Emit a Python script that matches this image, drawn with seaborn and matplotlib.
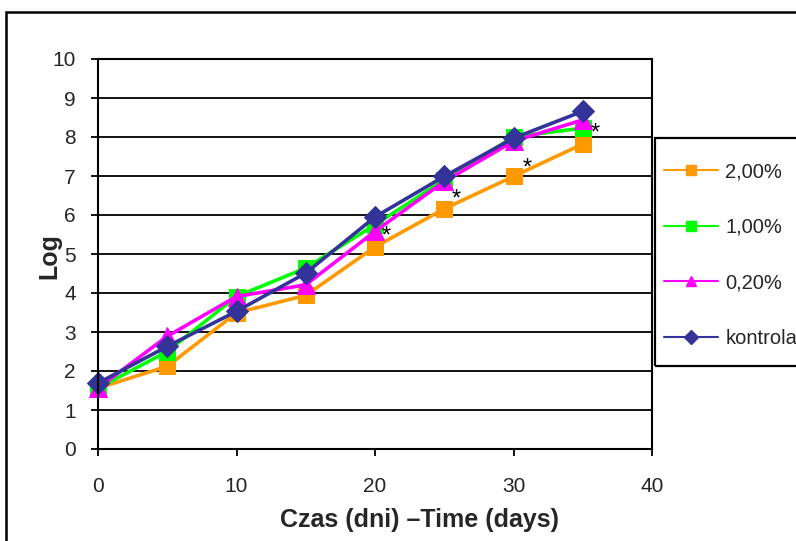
import matplotlib
matplotlib.use("Agg")
import matplotlib.pyplot as plt
import seaborn as sns
import pandas as pd
from matplotlib.lines import Line2D
from matplotlib.patches import Rectangle

days = [0, 5, 10, 15, 20, 25, 30, 35]
series_names = ["2,00%", "1,00%", "0,20%", "kontrola"]
v_200 = [1.56, 2.12, 3.49, 3.94, 5.18, 6.16, 6.99, 7.82]
v_100 = [1.56, 2.50, 3.91, 4.64, 5.75, 6.90, 8.00, 8.23]
v_020 = [1.56, 2.89, 3.91, 4.21, 5.58, 6.86, 7.89, 8.44]
v_kon = [1.69, 2.63, 3.53, 4.51, 5.95, 6.99, 7.97, 8.66]
star_x = [20.8, 25.9, 31.0, 35.9]
star_y = [5.45, 6.40, 7.20, 8.10]
x_ticks = [0, 10, 20, 30, 40]
y_ticks = list(range(0, 11))

colors = {"2,00%": "#FF9900", "1,00%": "#00FF00", "0,20%": "#FF00FF", "kontrola": "#333399"}
markers = {"2,00%": "s", "1,00%": "s", "0,20%": "^", "kontrola": "D"}
msizes = {"2,00%": 12, "1,00%": 12, "0,20%": 13, "kontrola": 11}

df = pd.DataFrame({
    "day": days * 4,
    "value": v_200 + v_100 + v_020 + v_kon,
    "series": sum([[n] * len(days) for n in series_names], []),
})

sns.set_style("white")
plt.rcParams["font.family"] = ["Liberation Sans", "DejaVu Sans"]

fig = plt.figure(figsize=(7.96, 5.41), dpi=100)
ax = fig.add_axes([98 / 796, 1 - 449 / 541, (652 - 98) / 796, (449 - 59) / 541])

for name in series_names:
    sub = df[df["series"] == name]
    sns.lineplot(data=sub, x="day", y="value", ax=ax, color=colors[name],
                 marker=markers[name], markersize=msizes[name],
                 markeredgecolor=colors[name], linewidth=2.6, legend=False,
                 clip_on=False)

for sx, sy in zip(star_x, star_y):
    ax.text(sx, sy, "*", fontsize=17, ha="center", va="center", color="black")

ax.set_xlim(0, 40)
ax.set_ylim(0, 10)
ax.set_xticks(x_ticks)
ax.set_yticks(y_ticks)
ax.yaxis.grid(True, color="black", linewidth=1.3)
ax.xaxis.grid(False)
ax.set_axisbelow(True)
for s in ax.spines.values():
    s.set_color("black")
    s.set_linewidth(1.5)
ax.tick_params(axis="both", direction="out", length=5, width=1.3, color="black",
               labelsize=15, bottom=True, left=True)
ax.tick_params(axis="x", pad=15)
ax.tick_params(axis="y", pad=11)
ax.set_xlabel("")
ax.set_ylabel("")
fig.text(419 / 796, 1 - 520 / 541, "Czas (dni) \u2013Time (days)", fontsize=18,
         fontweight="bold", ha="center", va="center")
fig.text(49 / 796, 1 - 256 / 541, "Log", fontsize=18, fontweight="bold",
         ha="center", va="center", rotation=90)

handles = [Line2D([0], [0], color=colors[n], marker=markers[n], markersize=7.5,
                  markeredgecolor=colors[n], linewidth=1.5) for n in series_names]
leg = fig.legend(handles, series_names, loc="upper left",
                 bbox_to_anchor=(664 / 796, 1 - 162 / 541), fontsize=14.5,
                 frameon=False, handlelength=2.7, labelspacing=1.82, borderpad=0,
                 handletextpad=0.35, borderaxespad=0)

fig.patches.append(Rectangle((655 / 796, 1 - 366 / 541), 0.3, (366 - 138) / 541,
                             transform=fig.transFigure, fill=False,
                             edgecolor="black", linewidth=1.6))
fig.patches.append(Rectangle((6 / 796, -0.1), 1.2, 1 - 12 / 541 + 0.1,
                             transform=fig.transFigure, fill=False,
                             edgecolor="black", linewidth=1.8))

fig.savefig("out.png", dpi=100)
